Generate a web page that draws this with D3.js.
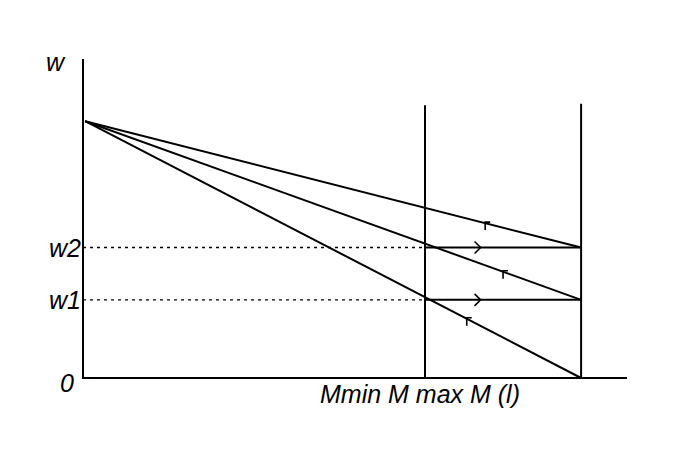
<!DOCTYPE html>
<html><head><meta charset="utf-8">
<script src="https://cdn.jsdelivr.net/npm/d3@7"></script>
<style>body{margin:0;background:#fff}svg{display:block}</style>
</head><body><svg id="c" width="673" height="454"></svg>
<script>
// Data (abstract units: x 0..100, y 0..100)
const xStart = 0.4;          // common origin of the budget lines
const wStart = 80.5;         // wage-axis intercept of the lines
const mMin = 63.1;           // Mmin
const mMax = 91.9;           // M max
const wLevels = [24.5, 40.9];           // w1, w2
const wLabels = ["w1", "w2"];
const lineEnds = [0, 24.5, 40.9];       // y where slanted lines meet M max
const verticalTop = [85.5, 86.0];       // tops of the Mmin / M max verticals
const slantArrowX = [70.8, 77.5, 74.2]; // positions of arrow marks on slanted lines (per lineEnds)
const flatArrowX = 72.8;                // arrow on horizontal segments
const xLabel = "Mmin  M max M (l)";

const svg = d3.select("#c");
const x = d3.scaleLinear().domain([0, 100]).range([83, 625]);
const y = d3.scaleLinear().domain([0, 100]).range([378, 59]);
const ink = "#000";

// axes
svg.append("line").attr("x1", x(0)).attr("x2", x(0)).attr("y1", y(0)+1).attr("y2", y(100)).attr("stroke", ink).attr("stroke-width", 2);
svg.append("line").attr("x1", x(0)-1).attr("x2", x(100)+2).attr("y1", y(0)).attr("y2", y(0)).attr("stroke", ink).attr("stroke-width", 2);

// verticals
[mMin, mMax].forEach((m, i) => {
  svg.append("line").attr("x1", x(m)).attr("x2", x(m)).attr("y1", y(verticalTop[i])).attr("y2", y(0))
    .attr("stroke", ink).attr("stroke-width", 2);
});

// dotted wage lines
wLevels.forEach(w => {
  svg.append("line").attr("x1", x(0)).attr("x2", x(mMin)).attr("y1", y(w)).attr("y2", y(w))
    .attr("stroke", ink).attr("stroke-width", 1.4).attr("stroke-dasharray", "3,4");
  svg.append("line").attr("x1", x(mMin)).attr("x2", x(mMax)).attr("y1", y(w)).attr("y2", y(w))
    .attr("stroke", ink).attr("stroke-width", 2);
  const ax = x(flatArrowX), ay = y(w);
  svg.append("path").attr("d", `M${ax-3},${ay-6} L${ax+3},${ay} L${ax-3},${ay+6}`)
    .attr("fill", "none").attr("stroke", ink).attr("stroke-width", 1.6);
});

// slanted lines
lineEnds.forEach((e, i) => {
  svg.append("line").attr("x1", x(xStart)).attr("y1", y(wStart)).attr("x2", x(mMax)).attr("y2", y(e))
    .attr("stroke", ink).attr("stroke-width", 2);
  const t = (slantArrowX[i] - xStart) / (mMax - xStart);
  const px = x(xStart + t * (mMax - xStart));
  const py = y(wStart + t * (e - wStart));
  svg.append("path").attr("d", `M${px},${py+7} L${px},${py-1} L${px+5},${py-1}`)
    .attr("fill", "none").attr("stroke", ink).attr("stroke-width", 1.6);
});

// labels
const font = "'Liberation Sans', Arial, sans-serif";
function label(t, tx, ty, anchor) {
  return svg.append("text").attr("x", tx).attr("y", ty).attr("text-anchor", anchor || "start")
    .attr("font-family", font).attr("font-style", "italic").attr("font-size", 25).attr("fill", ink).text(t);
}
label("w", 46, 71);
wLevels.forEach((w, i) => label(wLabels[i], 81, y(w) + 9, "end"));
label("0", 60, 392);
label(xLabel, 320, 403);
</script></body></html>
